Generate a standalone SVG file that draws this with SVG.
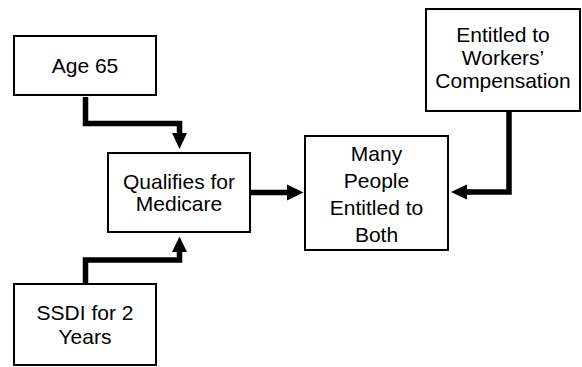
<svg xmlns="http://www.w3.org/2000/svg" width="582" height="367" viewBox="0 0 582 367">
  <defs>
    <style>
      .box { fill: #ffffff; stroke: #000000; stroke-width: 2; }
      .label { font-family: "Liberation Sans", Arial, sans-serif; font-size: 21px; fill: #000000; text-anchor: middle; }
      .wire { fill: none; stroke: #000000; stroke-width: 5.5; stroke-linejoin: miter; stroke-linecap: butt; }
      .head { fill: #000000; stroke: none; }
    </style>
  </defs>
  <rect width="582" height="367" fill="#ffffff"/>

  <g id="connectors">
    <!-- Age 65 to Qualifies for Medicare -->
    <path class="wire" d="M85.5,97 V123.5 H179.5 V135"/>
    <polygon class="head" points="172,133 187,133 179.5,149"/>
    <!-- SSDI for 2 Years to Qualifies for Medicare -->
    <path class="wire" d="M85.5,283 V260 H179.5 V250"/>
    <polygon class="head" points="172,252 187,252 179.5,236.5"/>
    <!-- Qualifies for Medicare to Many People -->
    <path class="wire" d="M251,192.5 H289"/>
    <polygon class="head" points="287,184.5 303.5,192.5 287,200.5"/>
    <!-- Workers' Compensation to Many People -->
    <path class="wire" d="M509,111 V192 H465"/>
    <polygon class="head" points="467,184.5 451,192 467,199.5"/>
  </g>

  <g id="age65">
    <rect class="box" x="14" y="36" width="142" height="59"/>
    <text class="label" x="85" y="73">Age 65</text>
  </g>

  <g id="medicare">
    <rect class="box" x="108" y="153" width="142" height="79"/>
    <text class="label" x="179" y="189">Qualifies for</text>
    <text class="label" x="179" y="211">Medicare</text>
  </g>

  <g id="ssdi">
    <rect class="box" x="14" y="284" width="142" height="81"/>
    <text class="label" x="85" y="319.5">SSDI for 2</text>
    <text class="label" x="85" y="343.5">Years</text>
  </g>

  <g id="both">
    <rect class="box" x="305" y="136" width="143" height="114"/>
    <text class="label" x="376.5" y="161">Many</text>
    <text class="label" x="376.5" y="188">People</text>
    <text class="label" x="376.5" y="215">Entitled to</text>
    <text class="label" x="376.5" y="241.5">Both</text>
  </g>

  <g id="workers-comp">
    <rect class="box" x="426" y="9" width="154" height="102"/>
    <text class="label" x="503" y="42">Entitled to</text>
    <text class="label" x="503" y="65">Workers’</text>
    <text class="label" x="503" y="87.5">Compensation</text>
  </g>
</svg>
